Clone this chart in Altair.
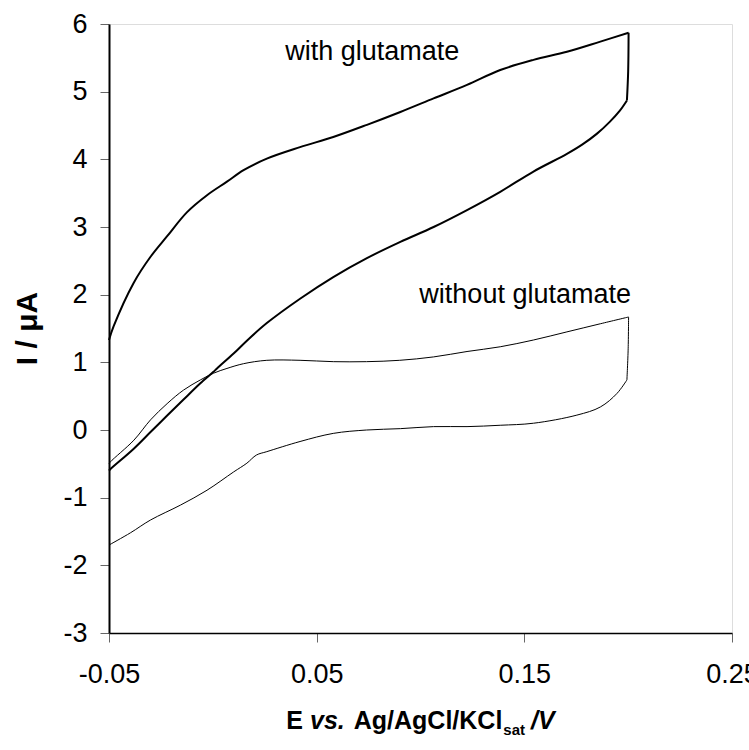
import altair as alt
import pandas as pd

# with glutamate (thick loop): forward scan, vertical turn, reverse scan
with_E = [-0.05, -0.0478, -0.0382, -0.030, -0.0221, -0.0124, -0.0028, 0.0068, 0.0148, 0.026,
          0.042, 0.058, 0.0742, 0.0903, 0.1063, 0.1224, 0.1384, 0.1544, 0.1705, 0.1866, 0.2002,
          0.2002, 0.2000, 0.1994,
          0.1994, 0.196, 0.191, 0.185, 0.178, 0.1705, 0.1544, 0.1384, 0.1224, 0.1063, 0.0903, 0.0742,
          0.058, 0.042, 0.026, 0.0164, 0.010, 0.002, 0.0003, -0.006, -0.0141, -0.0221, -0.030, -0.0382,
          -0.0494, -0.05]
with_I = [1.33, 1.53, 2.17, 2.56, 2.86, 3.22, 3.47, 3.67, 3.84, 4.01,
          4.18, 4.33, 4.51, 4.70, 4.90, 5.10, 5.32, 5.47, 5.59, 5.74, 5.87,
          5.87, 5.30, 4.87,
          4.87, 4.72, 4.55, 4.38, 4.22, 4.08, 3.82, 3.52, 3.25, 3.00, 2.78, 2.54,
          2.26, 1.94, 1.58, 1.32, 1.13, 0.91, 0.86, 0.69, 0.45, 0.21, -0.03, -0.28,
          -0.58, -0.60]
with_seg = [1] * 21 + [2] * 3 + [3] * 26

# without glutamate (thin loop)
without_E = [-0.05, -0.0493, -0.038, -0.030, -0.022, -0.0141, -0.006, 0.0004, 0.0068, 0.0148,
             0.026, 0.042, 0.058, 0.074, 0.090, 0.1063, 0.1224, 0.1384, 0.1544, 0.1705, 0.1866,
             0.2002,
             0.2002, 0.2000, 0.1994,
             0.1994, 0.1946, 0.1866, 0.1753, 0.1544, 0.1384, 0.1224, 0.1063, 0.0903, 0.074, 0.058, 0.042,
             0.026, 0.021, 0.0164, 0.010, -0.0028, -0.0156, -0.030, -0.0397, -0.05]
without_I = [-0.50, -0.47, -0.15, 0.15, 0.39, 0.59, 0.74, 0.84, 0.91, 0.98,
             1.03, 1.03, 1.01, 1.01, 1.03, 1.08, 1.16, 1.23, 1.33, 1.45, 1.57,
             1.67,
             1.67, 1.20, 0.74,
             0.74, 0.54, 0.34, 0.22, 0.10, 0.07, 0.05, 0.05, 0.02, 0.0, -0.05, -0.17,
             -0.32, -0.37, -0.49, -0.62, -0.89, -1.11, -1.33, -1.52, -1.70]
without_seg = [1] * 22 + [2] * 3 + [3] * 21

x_ticks = [-0.05, 0.05, 0.15, 0.25]
y_ticks = [-3, -2, -1, 0, 1, 2, 3, 4, 5, 6]

label_text = ["with glutamate", "without glutamate"]
label_E = [0.0768, 0.1504]
label_I = [5.58, 1.99]

FONT = "Liberation Sans"

df_with = pd.DataFrame({"E": with_E, "I": with_I, "seg": with_seg, "idx": range(len(with_E))})
df_without = pd.DataFrame({"E": without_E, "I": without_I, "seg": without_seg,
                           "idx": range(len(without_E))})
df_lab = pd.DataFrame({"E": label_E, "I": label_I, "text": label_text})

W, H = 623, 609

xscale = alt.Scale(domain=[-0.05, 0.25], nice=False, zero=False)
yscale = alt.Scale(domain=[-3, 6], nice=False, zero=False)

xaxis = alt.Axis(values=x_ticks, title=None, grid=False, tickSize=9, tickColor="#666",
                 labelFontSize=27, labelFont=FONT, labelColor="#000", labelPadding=19,
                 labelFlush=False, labelOverlap=False, labelBound=False,
                 domainColor="#000", domainWidth=1.5,
                 labelExpr="datum.value < 0 ? '-' + format(abs(datum.value), '.2f') : format(datum.value, '.2f')")
yaxis = alt.Axis(values=y_ticks, title=None, grid=False, tickSize=9, tickColor="#666",
                 labelFontSize=27, labelFont=FONT, labelColor="#000", labelPadding=13,
                 labelFlush=False, labelOverlap=False,
                 domainColor="#000", domainWidth=2,
                 labelExpr="datum.value < 0 ? '-' + format(abs(datum.value), 'd') : format(datum.value, 'd')")

thick = alt.Chart(df_with).mark_line(color="#000", strokeWidth=2, interpolate="catmull-rom").encode(
    x=alt.X("E:Q", scale=xscale, axis=xaxis),
    y=alt.Y("I:Q", scale=yscale, axis=yaxis),
    detail="seg:N",
    order="idx:Q",
)
thin = alt.Chart(df_without).mark_line(color="#000", strokeWidth=1, interpolate="catmull-rom").encode(
    x=alt.X("E:Q", scale=xscale),
    y=alt.Y("I:Q", scale=yscale),
    detail="seg:N",
    order="idx:Q",
)
labels = alt.Chart(df_lab).mark_text(font=FONT, fontSize=27, color="#000", align="center",
                                     baseline="middle").encode(
    x=alt.X("E:Q", scale=xscale),
    y=alt.Y("I:Q", scale=yscale),
    text="text:N",
)

# axis titles built from styled pieces
ytitle = alt.Chart(pd.DataFrame({"t": ["I / \u03bcA"]})).mark_text(
    font=FONT, fontSize=30, fontWeight="bold", angle=270, align="center", baseline="middle",
    color="#000").encode(x=alt.value(-81), y=alt.value(H / 2), text="t:N")

fs = 25
em = {"E": 0.667, "v": 0.556, "s": 0.556, ".": 0.278, "A": 0.722, "g": 0.611,
      "/": 0.278, "C": 0.722, "l": 0.278, "K": 0.722, "I": 0.278, "V": 0.667, "a": 0.556, "t": 0.333}
# (text, style, size, baseline shift, gap before)
pieces = [("E", "normal", fs, 0, 0), ("vs.", "italic", fs, 0, 7), ("Ag/AgCl/KCl", "normal", fs, 0, 9),
          ("sat", "normal", 15, 6, 1), ("/V", "italic", fs, 0, 6)]
widths = [sum(em[c] for c in p[0]) * p[2] for p in pieces]
total = sum(widths) + sum(p[4] for p in pieces)
pos = W / 2 - total / 2
xtitle_layers = []
for (txt, style, size, dy, gap), w in zip(pieces, widths):
    pos += gap
    xtitle_layers.append(
        alt.Chart(pd.DataFrame({"t": [txt]})).mark_text(
            font=FONT, fontSize=size, fontWeight="bold", fontStyle=style, align="left",
            baseline="alphabetic", color="#000").encode(
            x=alt.value(pos), y=alt.value(H + 96 + dy), text="t:N")
    )
    pos += w

chart = alt.layer(thick, thin, labels, ytitle, *xtitle_layers).properties(
    width=W, height=H,
    autosize=alt.AutoSizeParams(type="none"),
    padding={"left": 109, "top": 24, "right": 17, "bottom": 117},
).configure_view(stroke="#000", strokeWidth=1.5).configure(background="white")

chart.save("out.html", embed_options={"renderer": "svg", "actions": False})
